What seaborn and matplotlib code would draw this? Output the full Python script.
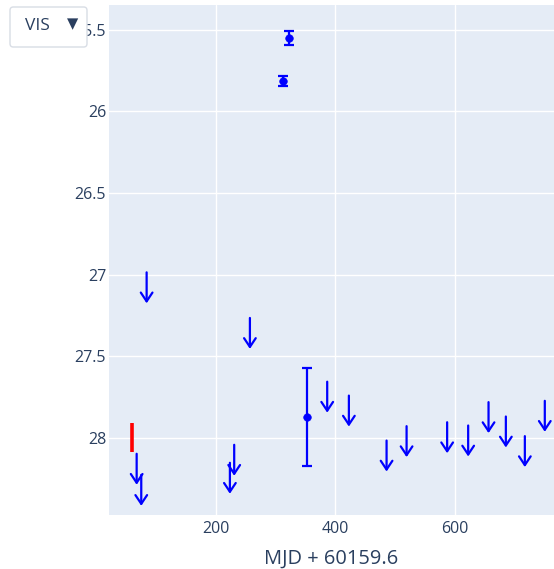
import numpy as np
import pandas as pd
import matplotlib.pyplot as plt
import seaborn as sns
from matplotlib.patches import FancyBboxPatch
from matplotlib.ticker import FuncFormatter

# detections (VIS)
det_mjd = [322.7, 312.6, 352.3]
det_mag = [25.551, 25.814, 27.868]
det_err = [0.044, 0.030, 0.300]

# red segment
red_mjd = [58.9]
red_mag = [27.995]
red_err = [0.090]

# upper limits (arrow tips)
lim_mjd = [84.0, 256.9, 67.3, 75.0, 230.6, 223.4, 386.3, 422.6, 485.7,
           519.2, 587.1, 622.3, 656.4, 685.4, 717.2, 750.6]
lim_mag = [27.175, 27.454, 28.285, 28.414, 28.230, 28.340, 27.844, 27.929, 28.204,
           28.116, 28.092, 28.112, 27.969, 28.057, 28.177, 27.961]

det = pd.DataFrame({"mjd": det_mjd, "mag": det_mag, "err": det_err})

sns.set_theme(style="whitegrid", rc={
    "axes.facecolor": "#E5ECF6",
    "grid.color": "white",
    "grid.linewidth": 1.0,
    "axes.edgecolor": "#E5ECF6",
})
plt.rcParams['font.family'] = ['Open Sans', 'DejaVu Sans']

fig = plt.figure(figsize=(5.54, 5.69), dpi=100)
ax = fig.add_axes([109 / 554, 1 - 515 / 569, 1 - 109 / 554, 510 / 569])

blue = "#0000FF"
sns.scatterplot(data=det, x="mjd", y="mag", ax=ax, color=blue, s=30,
                edgecolor=blue, zorder=4, legend=False)
ax.errorbar(det["mjd"], det["mag"], yerr=det["err"], fmt="none", ecolor=blue,
            elinewidth=1.6, capsize=3.6, capthick=1.6, zorder=3)
ax.errorbar(red_mjd, red_mag, yerr=red_err, fmt="none", ecolor="red",
            elinewidth=2.6, capsize=0, zorder=3)

for x, y in zip(lim_mjd, lim_mag):
    ax.annotate("", xy=(x, y), xytext=(0, 22.3), textcoords="offset points",
                arrowprops=dict(arrowstyle="->,head_length=0.45,head_width=0.3",
                                color=blue, lw=1.6, shrinkA=0, shrinkB=0,
                                mutation_scale=14))

ax.set_xlim(21, 766)
ax.set_ylim(28.47, 25.35)
ax.set_xticks([200, 400, 600])
ax.set_yticks([25.5, 26, 26.5, 27, 27.5, 28])
ax.yaxis.set_major_formatter(FuncFormatter(lambda v, p: f"{v:g}"))
ax.tick_params(axis="both", length=0, labelsize=11.5, labelcolor="#2a3f5f")
ax.tick_params(axis="y", pad=2)
ax.tick_params(axis="x", pad=4)
ax.set_xlabel("MJD + 60159.6", fontsize=14.4, color="#2a3f5f", labelpad=9)
ax.set_ylabel("")
ax.grid(True)
for s in ax.spines.values():
    s.set_visible(False)

# dropdown menu
box = FancyBboxPatch((10 / 554, 1 - 47 / 569), 77 / 554, 40 / 569,
                     boxstyle="round,pad=0,rounding_size=0.006",
                     transform=fig.transFigure, facecolor="white",
                     edgecolor="#D8DDE5", linewidth=1.0, zorder=10)
fig.patches.append(box)
fig.text(25 / 554, 1 - 26.5 / 569, "VIS", fontsize=12.5, color="#2a3f5f",
         va="center", ha="left", zorder=11)
fig.text(73 / 554, 1 - 23.5 / 569, "▼", fontsize=10.5, color="#2a3f5f",
         va="center", ha="center", zorder=11, family=['DejaVu Sans'])

fig.savefig("out.png", dpi=100)
